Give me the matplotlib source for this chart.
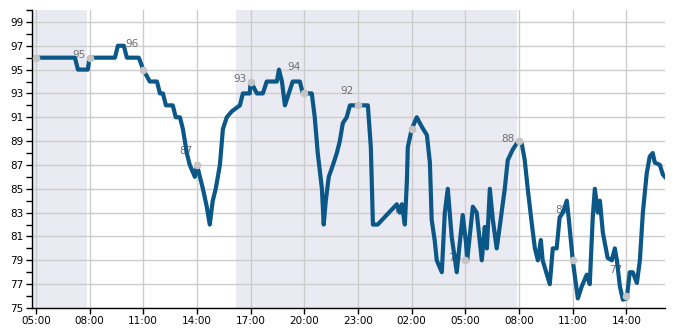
import matplotlib
matplotlib.use('Agg')

import pandas as pd
import matplotlib.pyplot as plt
import matplotlib.dates as mdates
from matplotlib.ticker import MultipleLocator

start_day = '2024-01-01'

# line trace (clock time wraps into the next day)
clock = ['05:00', '07:11', '07:21', '07:54', '08:00', '09:25', '09:35', '09:55', '10:05', '10:45',
         '11:00', '11:22', '11:46', '11:56', '12:06', '12:16', '12:39', '12:49', '13:03', '13:13',
         '13:26', '13:36', '13:53', '14:00', '14:20', '14:33', '14:43', '14:53', '15:03', '15:17',
         '15:27', '15:40', '15:57', '16:24', '16:34', '16:57', '17:00', '17:21', '17:41', '17:54',
         '18:28', '18:35', '18:45', '18:55', '19:08', '19:21', '19:45', '19:55', '20:00', '20:25',
         '20:35', '20:45', '20:59', '21:05', '21:12', '21:22', '21:36', '21:49', '21:59', '22:09',
         '22:22', '22:33', '23:00', '23:33', '23:43', '23:50', '00:06', '01:10', '01:20', '01:27',
         '01:37', '01:44', '01:47', '02:00', '02:17', '02:34', '02:51', '03:01', '03:07', '03:17',
         '03:24', '03:41', '03:51', '04:01', '04:14', '04:31', '04:51', '05:02', '05:06', '05:25',
         '05:38', '05:55', '06:05', '06:12', '06:22', '06:32', '06:45', '06:55', '07:12', '07:22',
         '07:39', '07:52', '08:00', '08:09', '08:19', '08:29', '08:43', '08:53', '09:03', '09:13',
         '09:19', '09:43', '09:53', '10:06', '10:16', '10:27', '10:40', '10:47', '11:00', '11:17',
         '11:30', '11:47', '11:57', '12:07', '12:14', '12:24', '12:31', '12:41', '12:57', '13:11',
         '13:21', '13:28', '13:38', '13:48', '14:01', '14:11', '14:21', '14:35', '14:45', '14:55',
         '15:08', '15:18', '15:28', '15:35', '15:52', '16:02', '16:09']
humidity = [96, 96, 95, 95, 96, 96, 97, 97, 96, 96,
            95, 94, 94, 93, 93, 92, 92, 91, 91, 90,
            88, 87, 86, 87, 85, 83.5, 82, 84, 85, 87,
            90, 91, 91.5, 92, 93, 93, 94, 93, 93, 94,
            94, 95, 94, 92, 93, 94, 94, 93, 93, 93,
            91, 88, 85, 82, 84, 86, 87, 88, 89, 90.5,
            91, 92, 92, 92, 88.5, 82, 82, 83.7, 83, 83.7,
            82, 85.7, 88.5, 90, 91, 90.2, 89.5, 87.2, 82.4, 80.7,
            79, 78, 83, 85, 81, 78, 82.8, 80.5, 79, 83.5,
            83, 79, 81.8, 80, 85, 82.4, 80, 81.8, 85, 87.4,
            88.3, 88.8, 89, 88.8, 87.4, 85, 82, 80, 79, 80.7,
            79, 77, 80, 80, 82.6, 83, 84, 82.4, 79, 75.8,
            76.8, 77.8, 77, 82.6, 85, 83, 84, 81.3, 79.2, 79,
            80, 79, 76.8, 75.7, 75.8, 78, 78, 77.1, 79, 83,
            86.3, 87.7, 88, 87.2, 87, 86.2, 86]

# grey markers every 3 hours and their small labels
mark_clock = ['05:00', '08:00', '11:00', '14:00', '17:00', '20:00',
              '23:00', '02:00', '05:00', '08:00', '11:00', '14:00']
mark_values = [96, 96, 95, 87, 94, 93, 92, 90, 79, 89, 79, 76]
mark_labels = [None, 95, 96, 87, 93, 94, 92, 82, 78, 88, 82, 77]

# shaded (night) periods and the visible time range
night_spans = [('2024-01-01 04:47', '2024-01-01 07:53'),
               ('2024-01-01 16:10', '2024-01-02 07:52')]
x_range = ('2024-01-01 04:47', '2024-01-02 16:09')


def roll_days(clock_list):
    # turn a list of HH:MM into timestamps, moving to the next day when the clock wraps
    out = []
    day = 0
    prev = None
    for c in clock_list:
        t = pd.Timestamp(start_day + ' ' + c) + pd.Timedelta(days=day)
        if prev is not None and t < prev:
            day += 1
            t = t + pd.Timedelta(days=1)
        out.append(t)
        prev = t
    return out


times = roll_days(clock)
mark_times = roll_days(mark_clock)

fig = plt.figure(figsize=(6.85, 3.3), dpi=100)
ax = fig.add_axes([0.0467, 0.0667, 0.924, 0.903])

for s0, s1 in night_spans:
    ax.axvspan(pd.Timestamp(s0), pd.Timestamp(s1), color='#eaeaf2', zorder=0, lw=0)

ax.grid(True, color='#cccccc', lw=1, zorder=1)
ax.set_axisbelow(True)

for t, v, lab in zip(mark_times, mark_values, mark_labels):
    if lab is None:
        continue
    ax.annotate(str(lab), xy=(t, lab), xytext=(-3, 8), textcoords='offset points',
                ha='right', va='baseline', fontsize=7.5, color='#707070', zorder=2)

ax.plot(times, humidity, color='#0b5787', lw=3, solid_joinstyle='round', zorder=3)
ax.plot(mark_times, mark_values, 'o', color='#c4c4c4', ms=5.5, mec='none', zorder=4)

ax.set_xlim(pd.Timestamp(x_range[0]), pd.Timestamp(x_range[1]))
ax.set_ylim(75, 100)
ax.yaxis.set_major_locator(MultipleLocator(2))
ax.yaxis.set_minor_locator(MultipleLocator(1))
ax.set_yticks(range(75, 100, 2))
ax.xaxis.set_major_locator(mdates.HourLocator(byhour=[2, 5, 8, 11, 14, 17, 20, 23]))
ax.xaxis.set_major_formatter(mdates.DateFormatter('%H:%M'))

for side in ['top', 'right']:
    ax.spines[side].set_visible(False)
for side in ['left', 'bottom']:
    ax.spines[side].set_color('black')
    ax.spines[side].set_linewidth(1)

ax.tick_params(axis='both', which='major', length=4, width=1, labelsize=7.5, pad=2)
ax.tick_params(axis='y', which='minor', length=4, width=1)
ax.grid(False, which='minor')

fig.savefig('out.png', dpi=100)
